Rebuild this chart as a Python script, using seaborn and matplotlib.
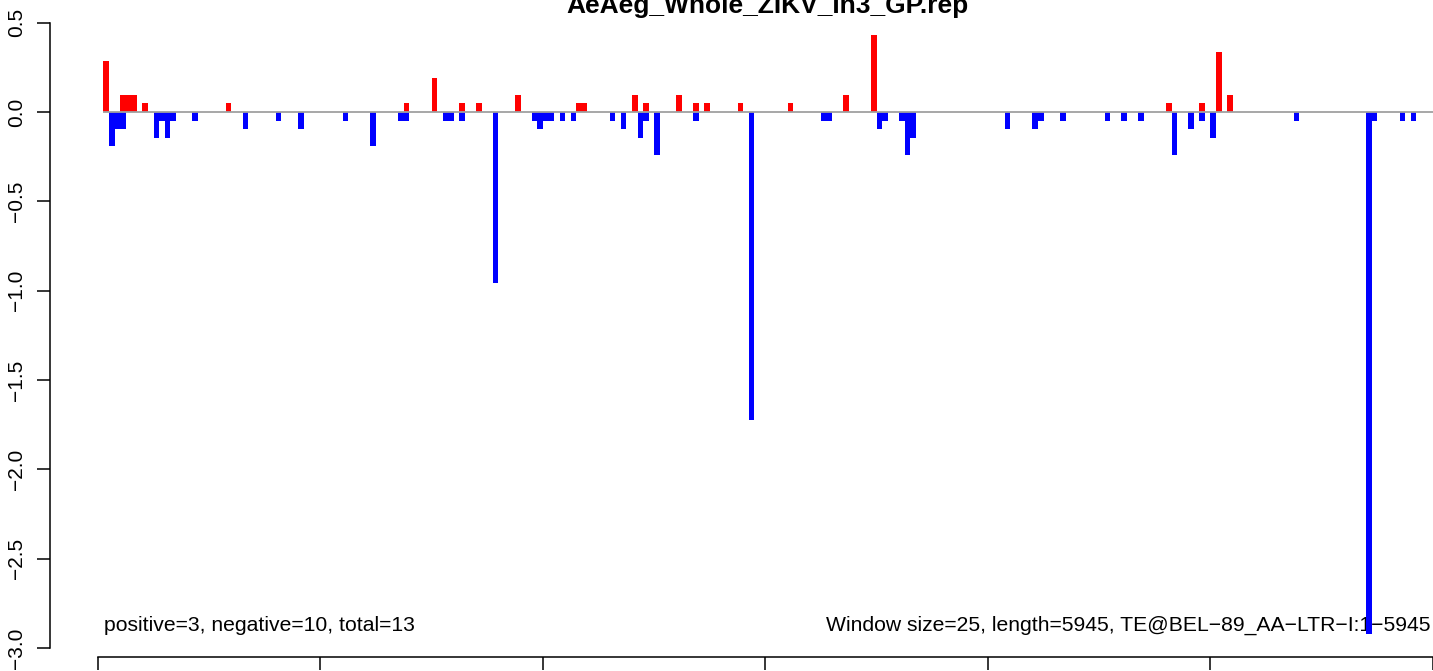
import matplotlib
matplotlib.use("Agg")
import numpy as np
import pandas as pd
import seaborn as sns
import matplotlib.pyplot as plt

# ---------------- data ----------------
title = "AeAeg_Whole_ZIKV_In3_GP.rep"
window_size = 25
seq_length = 5945

# window index -> value (positive strand, red)
pos_idx = [1, 4, 5, 6, 8, 23, 55, 60, 65, 68, 75, 86, 87, 96, 98, 104, 107,
           109, 115, 124, 134, 139, 192, 198, 201, 203]
pos_val = [0.287, 0.096, 0.096, 0.096, 0.048, 0.048, 0.048, 0.192, 0.048,
           0.048, 0.096, 0.048, 0.048, 0.096, 0.048, 0.096, 0.048, 0.048,
           0.048, 0.048, 0.096, 0.431, 0.048, 0.048, 0.335, 0.096]

# window index -> value (negative strand, blue)
neg_idx = [2, 3, 4, 10, 11, 12, 13, 17, 26, 32, 36, 44, 49, 54, 55, 62, 63,
           65, 71, 78, 79, 80, 81, 83, 85, 92, 94, 97, 98, 100, 107, 117, 130,
           131, 140, 141, 144, 145, 146, 163, 168, 169, 173, 181, 184, 187,
           193, 196, 198, 200, 215, 228, 229, 234, 236]
neg_val = [-0.192, -0.096, -0.096, -0.144, -0.048, -0.144, -0.048, -0.048,
           -0.096, -0.048, -0.096, -0.048, -0.192, -0.048, -0.048, -0.048,
           -0.048, -0.048, -0.958, -0.048, -0.096, -0.048, -0.048, -0.048,
           -0.048, -0.048, -0.096, -0.144, -0.048, -0.239, -0.048, -1.724,
           -0.048, -0.048, -0.096, -0.048, -0.048, -0.239, -0.144, -0.096,
           -0.096, -0.048, -0.048, -0.048, -0.048, -0.048, -0.239, -0.096,
           -0.048, -0.144, -0.048, -2.920, -0.048, -0.048, -0.048]

ytick_vals = [-3.0, -2.5, -2.0, -1.5, -1.0, -0.5, 0.0, 0.5]
ytick_labels = ["\u22123.0", "\u22122.5", "\u22122.0", "\u22121.5",
                "\u22121.0", "\u22120.5", "0.0", "0.5"]
# x tick labels fall below the visible canvas in the reference
xtick_vals = [0, 1000, 2000, 3000, 4000, 5000, 6000]

left_note = "positive=3, negative=10, total=13"
right_note = "Window size=25, length=5945, TE@BEL\u221289_AA\u2212LTR\u2212I:1\u22125945"

# ---------------- build table ----------------
n_win = int(np.ceil(seq_length / window_size))
pos = np.zeros(n_win)
neg = np.zeros(n_win)
pos[pos_idx] = pos_val
neg[neg_idx] = neg_val
df = pd.DataFrame({
    "center": np.arange(n_win) * window_size + window_size / 2,
    "pos": pos,
    "neg": neg,
})

# ---------------- plot ----------------
sns.set_theme(style="white")
plt.rcParams["font.family"] = ["Liberation Sans", "DejaVu Sans"]

W, H = 1433, 671
fig = plt.figure(figsize=(W / 100, H / 100), dpi=100)
ax_left_px, ax_bottom_px = 50, 657
ax = fig.add_axes([ax_left_px / W, 1 - ax_bottom_px / H,
                   (W - ax_left_px) / W, ax_bottom_px / H])

sns.barplot(data=df, x="center", y="pos", native_scale=True, color="#FF0000",
            saturation=1, width=1.0, linewidth=0, edgecolor="none",
            errorbar=None, ax=ax, zorder=2)
sns.barplot(data=df, x="center", y="neg", native_scale=True, color="#0000FF",
            saturation=1, width=1.0, linewidth=0, edgecolor="none",
            errorbar=None, ax=ax, zorder=2)

ax.hlines(0, window_size, 6100, color="#a0a0a0", linewidth=1.3, zorder=3)

# scale: 0 bp at x=98 px, 223 px per 1000 bp; 0 at y=112 px, 178.7 px per unit
px_per_bp = 0.2230
x0_px = 98.0
ax.set_xlim((ax_left_px - x0_px) / px_per_bp, (W - x0_px) / px_per_bp)
px_per_unit = 178.7
y0_px = 112
ax.set_ylim((y0_px - ax_bottom_px) / px_per_unit, y0_px / px_per_unit)

ax.set_xticks(xtick_vals)
ax.set_xticklabels([])
ax.set_yticks(ytick_vals)
ax.set_yticklabels(ytick_labels, rotation=90, va="center")
ax.tick_params(axis="both", which="major", left=True, bottom=True,
               length=9.4, width=1.1, color="black", labelcolor="black",
               labelsize=15, pad=7.6, direction="out")
ax.set_xlabel("")
ax.set_ylabel("")
ax.grid(False)
ax.set_facecolor("white")

for s in ("top", "right"):
    ax.spines[s].set_visible(False)
ax.spines["left"].set_bounds(-3.0, 0.5)
ax.spines["bottom"].set_bounds(0, 6000)
for s in ("left", "bottom"):
    ax.spines[s].set_color("black")
    ax.spines[s].set_linewidth(1.1)

# notes drawn beneath the bars (bars overlap the right note in the reference)
ax.text(104 / W, 1 - 631 / H, left_note, transform=fig.transFigure,
        fontsize=15.25, ha="left", va="baseline", color="black", zorder=1)
ax.text(1431 / W, 1 - 631 / H, right_note, transform=fig.transFigure,
        fontsize=15.25, ha="right", va="baseline", color="black", zorder=1)
# title is partly cut at the top edge, as in the reference
fig.text(767 / W, 1 - 13 / H, title, fontsize=19, fontweight="bold",
         ha="center", va="baseline", color="black")

fig.savefig("out.png", dpi=100)
